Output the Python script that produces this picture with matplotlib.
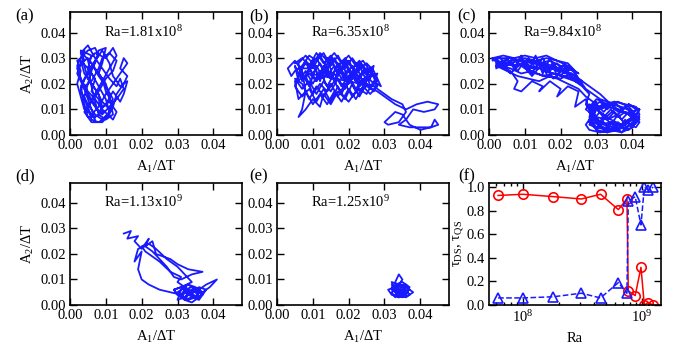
import matplotlib
matplotlib.use("Agg")
import matplotlib.pyplot as plt
from matplotlib.ticker import FormatStrFormatter, MultipleLocator
import numpy as np

plt.rcParams['font.family'] = ['Liberation Serif', 'DejaVu Serif']
plt.rcParams['mathtext.fontset'] = 'custom'
plt.rcParams['mathtext.rm'] = 'Liberation Serif'
plt.rcParams['mathtext.it'] = 'Liberation Serif:italic'
plt.rcParams['font.size'] = 10.5

# trajectories, A1/dT and A2/dT in units of 1e-3
a_x = [3, 5, 7, 8, 6, 4, 3, 5, 7, 9, 11, 10, 8, 6, 5, 7, 10, 12, 13, 11, 9, 7, 5, 6, 8, 10, 12, 13, 15, 16,
       14, 15, 16, 14, 12, 10, 8, 6, 4, 3, 2, 3, 2, 4, 6, 8, 10, 12, 11, 9, 7, 5, 4, 3, 5, 7, 9, 11, 13, 14,
       15, 13, 11, 9, 7, 5, 4, 6, 8, 9, 11, 13, 12, 10, 8, 6, 4, 6, 9, 11, 12, 10, 9, 7, 5, 3, 2, 4, 6, 8,
       10, 12, 14, 15, 16, 14, 12, 11, 9, 7, 6, 5, 4, 5, 7,
       2, 4, 3, 6, 5, 7, 6, 8, 9, 7, 5, 4, 3, 5, 7, 8, 10, 9, 8, 10, 11, 12, 10, 8, 7, 6, 5, 3, 4, 6,
       8, 9, 11, 13, 12, 9, 7, 5, 3, 2, 4]
a_y = [30, 33, 34, 31, 27, 22, 17, 12, 8, 6, 9, 14, 19, 24, 29, 32, 30, 34, 31, 26, 21, 16, 11, 6, 5, 7, 11, 16, 20, 23,
       26, 30, 28, 24, 20, 16, 11, 8, 10, 15, 20, 25, 29, 31, 28, 23, 19, 14, 10, 13, 18, 22, 27, 32, 35, 30, 26, 22, 19, 22,
       18, 14, 11, 8, 11, 15, 19, 21, 26, 30, 32, 29, 25, 22, 17, 13, 9, 5, 5, 8, 12, 17, 22, 26, 30, 28, 24, 18, 14, 9,
       12, 17, 13, 16, 21, 19, 23, 28, 33, 29, 25, 20, 15, 10, 6,
       26, 29, 33, 31, 26, 22, 17, 14, 9, 7, 7, 12, 19, 24, 28, 33, 34, 28, 24, 20, 15, 8, 6, 8, 13, 19, 26, 29, 24, 20,
       16, 11, 13, 9, 6, 10, 14, 17, 22, 27, 33]

b_x = [5, 7, 9, 11, 13, 15, 17, 19, 21, 23, 25, 27,
       26, 24, 22, 20, 18, 16, 14, 12, 10, 8, 6, 5,
       6, 8, 10, 12, 14, 16, 18, 20, 22, 24, 26, 28,
       27, 25, 23, 21, 19, 17, 15, 13, 11, 9, 7, 5,
       6, 8, 10, 12, 14, 16, 18, 20, 22, 24, 26, 28,
       27, 25, 23, 21, 19, 17, 15, 13, 11, 9, 7, 5,
       7, 9, 11, 13, 15, 17, 19, 21, 23, 25, 27, 29,
       27, 25, 23, 21, 19, 17, 15, 13, 11, 9, 7, 5,
       4, 3, 5, 7, 8, 7, 6, 8, 10, 12, 13, 15, 17, 20, 22,
       25, 28, 30, 33, 36, 39, 42, 45, 44, 41, 38, 36, 34, 37, 40, 43, 45, 44, 43, 40, 37, 35, 33, 30, 31,
       34, 36, 35, 32, 29, 27,
       9, 11, 13, 15, 17, 19, 21, 23, 25, 24, 22, 20, 18, 16, 14, 12, 10, 8,
       10, 12, 14, 16, 18, 20, 22, 24, 26, 25, 23, 21, 19, 17, 15, 13, 11, 9,
       6, 8, 10, 12, 14, 16, 18, 20, 22, 24, 26, 28,
       26, 24, 22, 20, 18, 16, 14, 12, 10, 8, 6, 5,
       7, 9, 11, 13, 15, 17, 19, 21, 23, 25, 27, 28,
       27, 25, 23, 21, 19, 17, 15, 13, 11, 9, 7, 6,
       8, 10, 12, 14, 16, 18, 20, 22, 24, 26]
b_y = [28, 30, 27, 32, 28, 31, 27, 30, 26, 29, 25, 27,
       22, 25, 21, 26, 22, 27, 23, 28, 24, 28, 24, 27,
       21, 25, 20, 25, 19, 24, 19, 23, 18, 22, 18, 22,
       17, 20, 15, 20, 14, 19, 13, 18, 13, 18, 15, 19,
       23, 29, 26, 31, 26, 30, 25, 29, 24, 27, 23, 24,
       20, 23, 19, 23, 18, 22, 17, 21, 16, 21, 18, 22,
       20, 14, 19, 15, 20, 15, 20, 15, 18, 16, 21, 19,
       25, 28, 26, 30, 26, 31, 27, 32, 29, 31, 27, 25,
       23, 26, 29, 25, 17, 10, 7, 10, 14, 11, 16, 12, 17, 13, 17,
       19, 17, 15, 12, 10, 12, 13, 12, 10, 9, 10, 6, 4, 3, 3, 3, 4, 6, 3, 2, 4, 8, 9, 5, 4,
       5, 9, 12, 14, 17, 19,
       24, 21, 26, 22, 27, 21, 25, 20, 22, 19, 24, 20, 25, 21, 26, 22, 27, 23,
       16, 20, 17, 21, 16, 22, 17, 21, 19, 24, 28, 23, 29, 24, 30, 25, 30, 26,
       26, 22, 29, 21, 30, 21, 29, 21, 28, 20, 26, 19,
       16, 19, 14, 18, 13, 17, 12, 16, 12, 17, 14, 21,
       24, 19, 27, 22, 29, 24, 28, 22, 27, 21, 24, 21,
       23, 26, 22, 27, 23, 28, 22, 27, 21, 26, 21, 28,
       31, 28, 32, 29, 32, 28, 31, 27, 29, 25]

c_x = [1, 4, 7, 10, 13, 16, 19, 22, 24, 22, 19, 16, 13, 10, 7, 4, 2,
       2, 5, 8, 11, 14, 17, 20, 23, 25, 22, 19, 16, 13, 10, 7, 4, 1,
       3, 6, 9, 12, 15, 18, 21, 24, 26, 23, 20, 17, 14, 11, 8, 5, 2,
       3, 6, 8, 7, 9, 12, 15, 14, 17, 20, 19, 22, 25, 24, 27, 28,
       30, 29, 27, 28, 31, 34, 37, 40, 42, 41, 38, 35, 32, 29, 28, 30, 33, 36, 39, 42, 40, 37, 34, 31, 28,
       29, 32, 35, 38, 41, 39, 36, 33, 30, 29, 31, 34, 37, 40, 42, 39, 36, 33, 30, 28,
       30, 33, 36, 39, 41, 38, 35, 32, 29, 27, 28, 26, 24, 22, 20, 18, 16, 14, 12, 10, 8,
       10, 13, 16, 19, 22, 25, 27, 29, 31, 34, 37, 40, 38, 35, 32, 30, 33, 36, 39, 41,
       37, 34, 31, 29, 27, 25, 23, 21, 18, 15, 12, 9, 6, 3, 1,
       1, 3, 5, 7, 9, 11, 13, 15, 17, 19, 21, 23, 25,
       24, 22, 20, 18, 16, 14, 12, 10, 8, 6, 4, 2,
       3, 5, 7, 9, 11, 13, 15, 17, 19, 21, 23, 26,
       24, 21, 18, 15, 12, 9, 6, 3,
       5, 8, 12, 16, 20, 23, 26, 27, 29, 31, 33, 35,
       28, 30, 32, 34, 36, 38, 40, 42, 41, 39, 37, 35, 33, 31, 29, 28, 30, 32, 34, 36, 38, 40, 42, 40,
       38, 36, 34, 32, 30, 28, 29, 31, 33, 35, 37, 39, 41, 40, 38, 36, 34, 32, 30, 28, 27, 29, 31, 33,
       35, 37, 39, 41, 42, 40, 38, 36, 34, 32, 30, 28]
c_y = [30, 31, 30, 31, 30, 31, 29, 28, 25, 27, 29, 30, 29, 30, 29, 29, 28,
       26, 28, 27, 29, 28, 29, 27, 26, 24, 26, 25, 27, 26, 28, 27, 28, 30,
       27, 26, 24, 25, 23, 24, 23, 22, 21, 24, 22, 23, 21, 22, 23, 25, 27,
       27, 25, 21, 18, 17, 21, 19, 17, 21, 18, 15, 19, 17, 11, 14, 10,
       13, 8, 4, 2, 1, 2, 1, 3, 8, 11, 12, 13, 12, 10, 6, 3, 2, 3, 2, 6, 9, 11, 12, 11, 9,
       5, 3, 2, 3, 5, 8, 10, 11, 10, 7, 4, 5, 4, 6, 10, 12, 8, 6, 7, 11,
       14, 12, 13, 11, 8, 5, 3, 4, 8, 12, 16, 19, 21, 22, 23, 24, 25, 26, 26, 27, 28,
       26, 24, 23, 22, 20, 18, 15, 13, 9, 6, 4, 7, 9, 10, 6, 2, 1, 2, 5, 7,
       9, 12, 16, 18, 20, 22, 24, 25, 27, 28, 29, 29, 30, 30, 30,
       29, 30, 28, 30, 27, 30, 26, 30, 25, 28, 24, 26, 22,
       24, 27, 23, 28, 24, 29, 24, 29, 25, 29, 26, 29,
       27, 30, 26, 31, 25, 31, 24, 30, 23, 28, 22, 20,
       21, 26, 22, 28, 23, 28, 24, 28,
       27, 29, 28, 27, 25, 23, 20, 18, 16, 14, 13, 12,
       9, 12, 9, 12, 9, 11, 9, 10, 7, 9, 6, 9, 6, 9, 6, 4, 3, 5, 2, 5, 2, 5, 7, 3,
       6, 2, 5, 2, 5, 7, 11, 13, 10, 13, 10, 12, 10, 8, 9, 7, 10, 7, 10, 12, 10, 8, 4, 1,
       4, 1, 4, 3, 5, 7, 4, 8, 4, 8, 2, 5]

d_x = [15, 17, 16, 19, 18, 20, 22, 21, 23, 24, 26, 28, 30, 33, 37, 34, 31, 29, 27, 25, 23, 21, 19,
       18, 19, 20, 19, 20, 22, 25, 28, 31, 33, 35, 37, 39, 41, 38, 36, 34, 32, 30, 29, 31, 33, 35,
       37, 36, 34, 32, 30, 29, 31, 33, 35, 37, 38, 36, 34, 32, 30, 31, 33, 35, 37, 36, 34, 32, 33,
       35, 34, 32, 30, 31, 28, 25, 23, 21, 20, 22, 24, 27, 30, 32, 34, 31, 33, 35, 36,
       34, 32, 31, 33, 35, 36, 34, 32, 30, 32, 34, 36, 35, 33, 31]
d_y = [28, 29, 26, 27, 25, 22, 26, 23, 25, 20, 19, 18, 16, 14, 13, 12, 10, 11, 15, 18, 21, 23, 22,
       17, 19, 21, 14, 10, 8, 6, 5, 4, 5, 6, 5, 7, 10, 8, 6, 5, 3, 4, 6, 7, 8, 6,
       4, 2, 3, 2, 4, 6, 7, 5, 3, 4, 6, 7, 5, 3, 2, 6, 8, 7, 5, 3, 1, 2, 4,
       3, 5, 7, 9, 11, 13, 17, 19, 21, 23, 24, 22, 18, 15, 12, 9, 7, 4, 3, 5,
       7, 6, 4, 2, 3, 5, 6, 3, 5, 7, 4, 3, 5, 6, 4]

e_x = [33, 35, 36, 34, 32, 33, 35, 37, 36, 34, 32, 31, 33, 35, 37, 38, 36, 34, 33, 34, 35,
       34, 32, 33, 35, 37, 36, 34, 32, 33, 35, 36, 34, 33, 32, 34, 36, 37, 35, 33,
       32, 34, 36, 35, 33, 34, 36, 37]
e_y = [5, 7, 5, 4, 6, 8, 9, 7, 4, 3, 4, 6, 7, 8, 6, 5, 3, 4, 9, 12, 10,
       8, 7, 5, 3, 4, 6, 8, 9, 6, 5, 7, 5, 3, 5, 7, 8, 6, 4, 6,
       8, 6, 4, 6, 4, 3, 5, 6]

panels = [(a_x, a_y, '1.81x10$^{\\rm 8}$'),
          (b_x, b_y, '6.35x10$^{\\rm 8}$'),
          (c_x, c_y, '9.84x10$^{\\rm 8}$'),
          (d_x, d_y, '1.13x10$^{\\rm 9}$'),
          (e_x, e_y, '1.25x10$^{\\rm 9}$')]

# panel (f)
ra = [6.2e7, 1.0e8, 1.81e8, 3.1e8, 4.5e8, 6.35e8, 7.5e8, 7.7e8, 8.8e8, 9.84e8, 1.05e9, 1.13e9, 1.25e9]
tau_ds = [0.93, 0.94, 0.92, 0.90, 0.94, 0.81, 0.90, 0.12, 0.08, 0.32, 0.00, 0.02, 0.00]
tau_qs = [0.06, 0.06, 0.07, 0.10, 0.06, 0.19, 0.10, 0.88, 0.92, 0.68, 1.00, 0.98, 1.00]

fig = plt.figure(figsize=(6.78, 3.47), dpi=100)
W, H = 678.0, 347.0
lefts = [70, 277, 489]
rows = [(12, 135), (182.5, 305)]


def make_ax(col, row):
    top, bot = rows[row]
    return fig.add_axes([lefts[col] / W, 1 - bot / H, 172 / W, (bot - top) / H])


def style(ax):
    ax.tick_params(which='both', direction='in', top=True, right=True, width=1.0)
    ax.tick_params(which='major', length=5, pad=3)
    ax.tick_params(which='minor', length=2.5)
    for s in ax.spines.values():
        s.set_linewidth(1.2)


for i, (xs, ys, ratxt) in enumerate(panels):
    ax = make_ax(i % 3, i // 3)
    ax.plot(np.array(xs) / 1000, np.array(ys) / 1000, color='#1a1aff', lw=1.3)
    ax.set_xlim(0, 0.048)
    ax.set_ylim(0, 0.048)
    ax.xaxis.set_major_locator(MultipleLocator(0.01))
    ax.yaxis.set_major_locator(MultipleLocator(0.01))
    ax.xaxis.set_major_formatter(FormatStrFormatter('%.2f'))
    ax.yaxis.set_major_formatter(FormatStrFormatter('%.2f'))
    style(ax)
    ax.set_xlabel('A$_{\\rm 1}$/ΔT', labelpad=5, fontsize=10.5)
    if i % 3 == 0:
        ax.set_ylabel('A$_{\\rm 2}$/ΔT', labelpad=3, fontsize=10.5)
    ax.text(0.2, 0.84, 'Ra=' + ratxt, transform=ax.transAxes, va='center', ha='left')

labels = ['(a)', '(b)', '(c)', '(d)', '(e)', '(f)']
lab_x = [25, 259, 467]
lab_y = [16, 176]
for i, lab in enumerate(labels):
    fig.text(lab_x[i % 3] / W, 1 - lab_y[i // 3] / H, lab, ha='center', va='center', fontsize=12)

axf = make_ax(2, 1)
axf.semilogx(ra, tau_ds, '-o', color='red', mfc='none', ms=6.8, mew=1.2, lw=1.1)
axf.semilogx(ra, tau_qs, '--^', color='#1a1aff', mfc='none', ms=6.8, mew=1.2, lw=1.1)
axf.set_xlim(5.2e7, 1.45e9)
axf.set_ylim(0, 1.04)
axf.yaxis.set_major_locator(MultipleLocator(0.2))
axf.yaxis.set_major_formatter(FormatStrFormatter('%.1f'))
style(axf)
axf.set_xlabel('Ra', labelpad=5, fontsize=10.5)
axf.set_ylabel('τ$_{\\rm DS}$, τ$_{\\rm QS}$', labelpad=1, fontsize=10.5)

fig.savefig('out.png', dpi=100)
